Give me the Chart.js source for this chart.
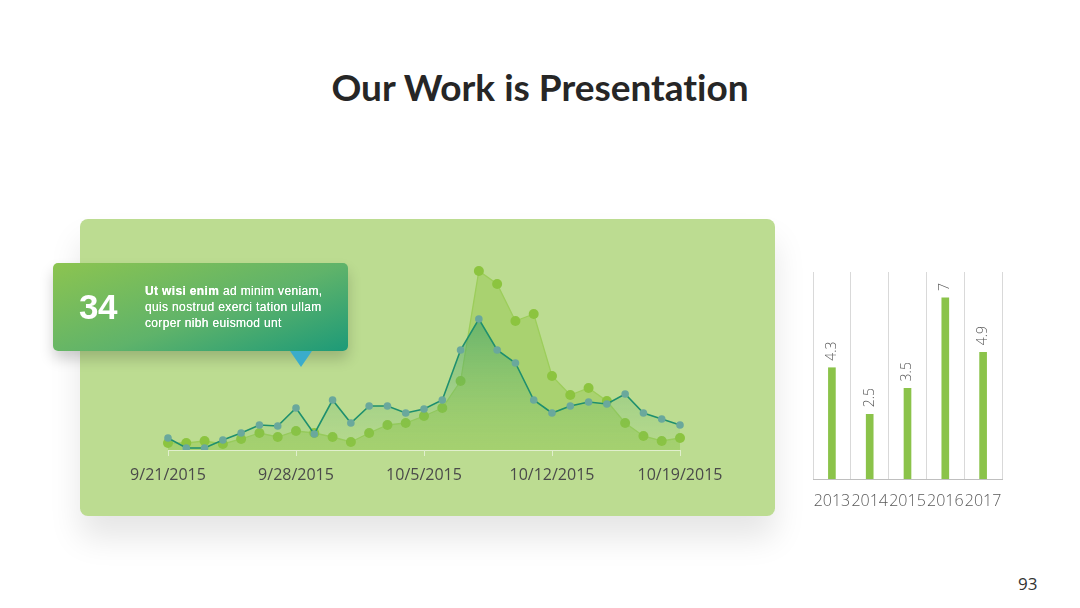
<!DOCTYPE html>
<html>
<head>
<meta charset="utf-8">
<script src="https://cdn.jsdelivr.net/npm/chart.js@4.4.1/dist/chart.umd.min.js"></script>
<style>
  html, body { margin:0; padding:0; background:#ffffff; }
  body { width:1080px; height:608px; position:relative; overflow:hidden; font-family:"Open Sans", Arial, sans-serif; }
  #title { position:absolute; left:0; top:62px; width:1080px; text-align:center; font-family:Lato, "Open Sans", sans-serif; font-weight:700; font-size:37px; color:#262626; line-height:50px; font-variant-ligatures:none; font-feature-settings:"liga" 0; }
  #panel { position:absolute; left:80px; top:219px; width:695px; height:297px; background:#bcdc91; border-radius:8px; box-shadow:0 22px 32px rgba(0,0,0,0.10); }
  #lineWrap { position:absolute; left:80px; top:219px; width:695px; height:297px; }
  #barWrap { position:absolute; left:790px; top:250px; width:240px; height:270px; }
  #callout { position:absolute; left:53px; top:263px; width:295px; height:88px; border-radius:5px; background:linear-gradient(160deg, #8cc450 0%, #5fb36a 55%, #1d9a78 100%); box-shadow:0 8px 14px rgba(0,0,0,0.18); }
  #arrow { position:absolute; left:290px; top:351px; width:0; height:0; border-left:11px solid transparent; border-right:11px solid transparent; border-top:16px solid #3aaccb; }
  #big { position:absolute; left:79px; top:285px; font-family:"Liberation Sans", Arial, sans-serif; font-weight:700; font-size:35px; color:#ffffff; line-height:44px; letter-spacing:-0.5px; }
  #txt { position:absolute; left:145px; top:283px; font-family:"Liberation Sans", Arial, sans-serif; font-size:12px; line-height:16px; color:#ffffff; letter-spacing:0.35px; text-shadow:0 0 0.4px #ffffff; }
  #txt b { font-weight:700; }
  #pnum { position:absolute; left:1018px; top:572px; font-family:"Open Sans", sans-serif; font-size:17px; color:#333333; }
</style>
</head>
<body>
<div id="title">Our Work is Presentation</div>
<div id="panel"></div>
<div id="lineWrap"><canvas id="lineChart" width="695" height="297"></canvas></div>
<div id="callout"></div>
<div id="arrow"></div>
<div id="big">34</div>
<div id="txt"><b>Ut wisi enim</b> ad minim veniam,<br>quis nostrud exerci tation ullam<br>corper nibh euismod unt</div>
<div id="barWrap"><canvas id="barChart" width="240" height="270"></canvas></div>
<div id="pnum">93</div>
<script>
// ---- data ----
const dates = ["9/21/2015","9/22/2015","9/23/2015","9/24/2015","9/25/2015","9/26/2015","9/27/2015",
  "9/28/2015","9/29/2015","9/30/2015","10/1/2015","10/2/2015","10/3/2015","10/4/2015",
  "10/5/2015","10/6/2015","10/7/2015","10/8/2015","10/9/2015","10/10/2015","10/11/2015",
  "10/12/2015","10/13/2015","10/14/2015","10/15/2015","10/16/2015","10/17/2015","10/18/2015",
  "10/19/2015"];
const tealSeries = [12, 2, 2, 10, 17, 25, 24, 42, 16, 50, 27, 44, 44, 37, 41, 50, 100, 131, 100, 87, 50, 37, 44, 48, 46, 56, 37, 31, 25];
const greenSeries = [7, 7, 9, 6, 11, 17, 13, 19, 17, 13, 8, 17, 25, 27, 34, 42, 69, 179, 166, 129, 136, 74, 55, 62, 49, 27, 14, 9, 12];
const lineYMax = 200;

const years = ["2013","2014","2015","2016","2017"];
const yearValues = [4.3, 2.5, 3.5, 7, 4.9];
const barYMax = 8;

// ---- line chart ----
new Chart(document.getElementById('lineChart'), {
  type: 'line',
  data: {
    labels: dates,
    datasets: [
      {
        data: tealSeries,
        borderColor: '#1e8f6e',
        borderWidth: 1.6,
        pointBackgroundColor: '#6aa89c',
        pointBorderWidth: 0,
        pointRadius: 3.8,
        tension: 0,
        fill: 'origin',
        order: 1,
        backgroundColor: (ctx) => {
          const ca = ctx.chart.chartArea;
          if (!ca) return 'rgba(60,160,100,0.4)';
          const g = ctx.chart.ctx.createLinearGradient(0, ca.top + 60, 0, ca.bottom);
          g.addColorStop(0, 'rgba(40,150,105,0.55)');
          g.addColorStop(1, 'rgba(120,190,110,0.08)');
          return g;
        }
      },
      {
        data: greenSeries,
        borderColor: '#9ccd5a',
        borderWidth: 1.3,
        pointBackgroundColor: '#8cc43f',
        pointBorderWidth: 0,
        pointRadius: 5,
        tension: 0,
        fill: 'origin',
        backgroundColor: 'rgba(140,196,63,0.40)',
        order: 2
      }
    ]
  },
  options: {
    responsive: false,
    animation: false,
    events: [],
    layout: { padding: { left: 88, right: 95, top: 31, bottom: 0 } },
    plugins: { legend: { display: false }, tooltip: { enabled: false } },
    scales: {
      x: {
        afterFit: (s) => { s.height = 66; },
        grid: { display: true, drawOnChartArea: false, drawTicks: true, tickLength: 6, color: 'rgba(255,255,255,0.55)' },
        border: { display: true, color: 'rgba(255,255,255,0.55)', width: 1 },
        ticks: {
          autoSkip: false, maxRotation: 0, minRotation: 0, padding: 10,
          color: '#4a4a4a',
          font: { family: 'Open Sans', size: 16 },
          callback: function(v, i) { return i % 7 === 0 ? this.getLabelForValue(v) : null; }
        }
      },
      y: { display: false, min: 0, max: lineYMax }
    }
  }
});

// ---- bar chart ----
const barLabelPlugin = {
  id: 'barLabels',
  afterDatasetsDraw(chart) {
    const c = chart.ctx;
    const meta = chart.getDatasetMeta(0);
    c.save();
    c.fillStyle = '#595959';
    c.font = '300 14px "Open Sans"';
    c.textAlign = 'left';
    c.textBaseline = 'middle';
    meta.data.forEach((bar, i) => {
      c.save();
      c.translate(bar.x, bar.y - 7);
      c.rotate(-Math.PI / 2);
      c.fillText(String(yearValues[i]), 0, 0);
      c.restore();
    });
    c.restore();
  }
};

new Chart(document.getElementById('barChart'), {
  type: 'bar',
  data: {
    labels: years,
    datasets: [{ data: yearValues, backgroundColor: '#8bc34a', barThickness: 7 }]
  },
  options: {
    responsive: false,
    animation: false,
    events: [],
    layout: { padding: { left: 23, right: 28, top: 22, bottom: 0 } },
    plugins: { legend: { display: false }, tooltip: { enabled: false } },
    scales: {
      x: {
        afterFit: (s) => { s.height = 41; },
        grid: { display: true, offset: true, drawTicks: false, color: '#d9d9d9' },
        border: { display: true, color: '#bfbfbf' },
        ticks: { autoSkip: false, maxRotation: 0, minRotation: 0, padding: 13, color: '#595959', font: { family: 'Open Sans', size: 16, weight: '300' } }
      },
      y: { display: false, min: 0, max: barYMax }
    }
  },
  plugins: [barLabelPlugin]
});
</script>
</body>
</html>
